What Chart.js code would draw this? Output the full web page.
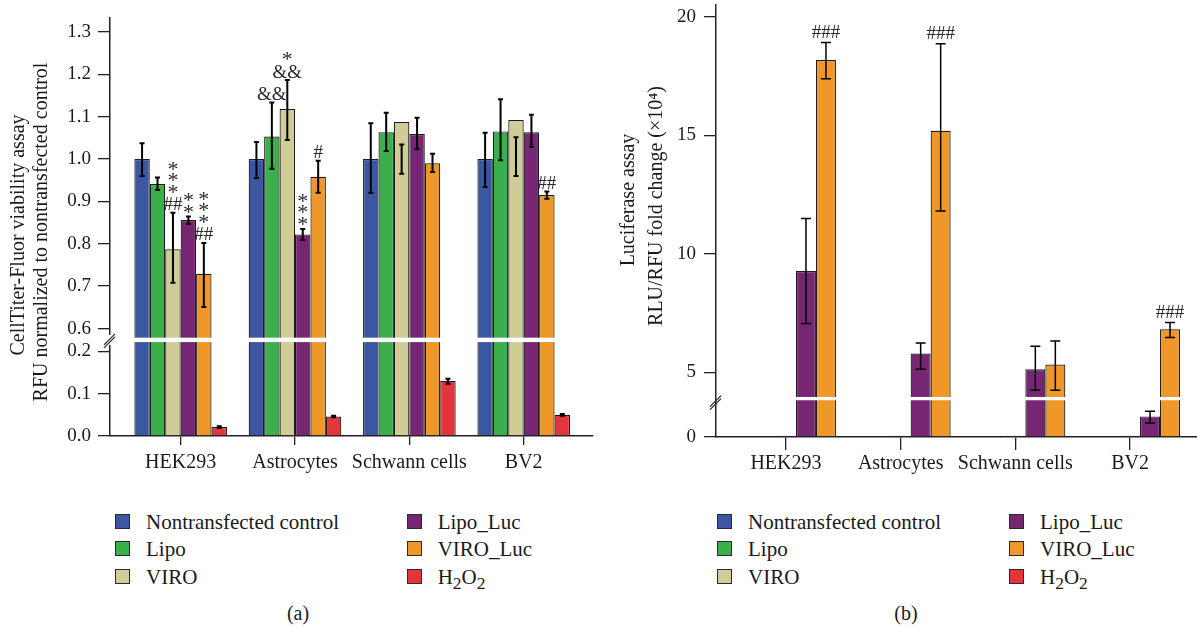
<!DOCTYPE html>
<html>
<head>
<meta charset="utf-8">
<script src="https://cdn.jsdelivr.net/npm/chart.js@4.4.1/dist/chart.umd.min.js"></script>
<style>
  body { margin: 0; background: #fff; }
  #page { position: relative; width: 1197px; height: 627px; overflow: hidden;
          font-family: 'Liberation Serif', 'Times New Roman', serif; color: #1a1a1a; }
  canvas { position: absolute; top: 0; }
  #chartA { left: 0; }
  #chartB { left: 600px; }
  .item { position: absolute; white-space: nowrap; font-size: 21px; line-height: 27px; height: 27px; }
  .swatch { position: absolute; left: 0; top: 5px; width: 13px; height: 13px; border: 1.5px solid #2b2b2b; }
  .txt { position: absolute; top: 0; }
  .caption { position: absolute; top: 601px; width: 60px; text-align: center; font-size: 20px; line-height: 24px; }
</style>
</head>
<body>
<div id="page">
  <canvas id="chartA" width="600" height="480"></canvas>
  <canvas id="chartB" width="597" height="480"></canvas>
  <div class="caption" style="left:268px">(a)</div>
  <div class="caption" style="left:876px">(b)</div>
</div>
<script>
const categories = ['HEK293', 'Astrocytes', 'Schwann cells', 'BV2'];
const seriesLabels = ['Nontransfected control', 'Lipo', 'VIRO', 'Lipo_Luc', 'VIRO_Luc', 'H<sub>2</sub>O<sub>2</sub>'];
const seriesColors = ['#3b57a1', '#3aaf4b', '#d0cc98', '#772673', '#ef9729', '#e3353b'];

// (a) CellTiter-Fluor viability, RFU normalized to nontransfected control
const viaCtrl    = [1.000, 1.000, 1.000, 1.000];
const viaLipo    = [0.941, 1.053, 1.063, 1.065];
const viaViro    = [0.787, 1.118, 1.087, 1.092];
const viaLipoLuc = [0.856, 0.822, 1.059, 1.063];
const viaViroLuc = [0.729, 0.958, 0.990, 0.915];
const viaH2O2    = [0.021, 0.046, 0.130, 0.050];
// error bars as [low, high]
const viaCtrlErr    = [[0.960, 1.037], [0.955, 1.040], [0.920, 1.084], [0.934, 1.062]];
const viaLipoErr    = [[0.927, 0.956], [0.977, 1.133], [1.019, 1.109], [0.997, 1.141]];
const viaViroErr    = [[0.708, 0.873], [1.045, 1.186], [0.965, 1.034], [0.960, 1.051]];
const viaLipoLucErr = [[0.847, 0.864], [0.809, 0.835], [1.023, 1.097], [1.028, 1.104]];
const viaViroLucErr = [[0.651, 0.802], [0.920, 0.996], [0.969, 1.012], [0.906, 0.923]];
const viaH2O2Err    = [[0.019, 0.023], [0.044, 0.048], [0.123, 0.135], [0.048, 0.052]];
const viaTicks = [0, 0.1, 0.2, 0.6, 0.7, 0.8, 0.9, 1.0, 1.1, 1.2, 1.3];
// [category, series, labels from bottom to top]
const viaMarks = [
  [0, 2, ['##', '*', '*', '*']],
  [0, 3, ['*', '*']],
  [0, 4, ['##', '*', '*', '*']],
  [1, 1, ['&&']],
  [1, 2, ['&&', '*']],
  [1, 3, ['*', '*', '*']],
  [1, 4, ['#']],
  [3, 4, ['##']]
];

// (b) Luciferase assay, RLU/RFU fold change (x10^4)
const lucCtrl    = [0.05, 0.05, 0.05, 0.05];
const lucLipoLuc = [9.27, 5.79, 5.13, 0.87];
const lucViroLuc = [18.18, 15.19, 5.33, 6.82];
const lucLipoLucErr = [[7.06, 11.49], [5.13, 6.24], [4.24, 6.10], [0.59, 1.085]];
const lucViroLucErr = [[17.39, 18.92], [11.81, 18.87], [4.24, 6.32], [6.47, 7.10]];
const lucTicks = [0, 5, 10, 15, 20];
const lucMarks = [
  [0, 4, ['###']],
  [1, 4, ['###']],
  [3, 4, ['###']]
];

const FONT = "'Liberation Serif', 'Times New Roman', serif";

// collapse the gap of a broken value axis
function brokenAxis(lowTop, highBottom, gap) {
  const shift = highBottom - lowTop - gap;
  const tf = v => v <= lowTop ? v : (v >= highBottom ? v - shift : lowTop + gap / 2);
  tf.breakAt = lowTop + gap / 2;
  return tf;
}

const decor = {
  id: 'decor',
  afterDatasetsDraw(chart, args, o) {
    const ctx = chart.ctx, ys = chart.scales.y, area = chart.chartArea;
    ctx.save();
    ctx.strokeStyle = '#000';
    ctx.lineWidth = o.errWidth;
    o.errors.forEach((errs, ds) => {
      if (!errs) return;
      const meta = chart.getDatasetMeta(ds);
      errs.forEach((e, i) => {
        const bx = meta.data[i].x;
        const y0 = ys.getPixelForValue(o.tf(e[0])), y1 = ys.getPixelForValue(o.tf(e[1]));
        ctx.beginPath();
        ctx.moveTo(bx, y0); ctx.lineTo(bx, y1);
        ctx.moveTo(bx - o.cap, y0); ctx.lineTo(bx + o.cap, y0);
        ctx.moveTo(bx - o.cap, y1); ctx.lineTo(bx + o.cap, y1);
        ctx.stroke();
      });
    });

    // white band across bars where the axis is broken
    const by = ys.getPixelForValue(o.tf.breakAt);
    ctx.fillStyle = '#fff';
    ctx.fillRect(area.left + 1, by - o.band / 2, area.right - area.left, o.band);
    if (o.axisGap) ctx.fillRect(area.left - 2, by - o.axisGap / 2, 4, o.axisGap);
    ctx.strokeStyle = '#1f2a1a';
    ctx.lineWidth = 1.3;
    [0, 3].forEach(d => {
      ctx.beginPath();
      ctx.moveTo(area.left - 6, by + 5 + d + o.slashDy);
      ctx.lineTo(area.left + 5, by - 6 + d + o.slashDy);
      ctx.stroke();
    });

    // significance marks
    ctx.fillStyle = '#2a2a2a';
    ctx.textAlign = 'center';
    ctx.textBaseline = 'alphabetic';
    o.marks.forEach(([cat, ds, lines]) => {
      const bar = chart.getDatasetMeta(ds).data[cat];
      let c = ys.getPixelForValue(o.tf(o.errors[ds][cat][1])) - o.markGap;
      lines.forEach((s, k) => {
        if (k > 0) c -= (lines[k - 1] === '*' ? 11.5 : 16);
        const size = s === '*' ? o.markSize + 3 : o.markSize;
        ctx.font = size + 'px ' + FONT;
        ctx.fillText(s, bar.x, c + (s === '*' ? 0.5 : 0.34) * size);
      });
    });
    ctx.restore();
  },
  afterDraw(chart, args, o) {
    const ctx = chart.ctx;
    ctx.save();
    ctx.fillStyle = '#1a1a1a';
    ctx.font = '20px ' + FONT;
    ctx.textAlign = 'center';
    ctx.textBaseline = 'middle';
    o.title.forEach((t, k) => {
      ctx.save();
      ctx.translate(o.titleX[k], o.titleY[k]);
      ctx.rotate(-Math.PI / 2);
      ctx.fillText(t, 0, 0);
      ctx.restore();
    });
    ctx.restore();
  }
};

function panel(id, p) {
  const tf = p.tf;
  return new Chart(document.getElementById(id), {
    type: 'bar',
    data: {
      labels: categories.map((c, i) => i),
      datasets: p.series.map(s => ({
        label: s.label,
        data: s.values ? s.values.map(tf) : categories.map(() => null),
        backgroundColor: s.color || 'rgba(0,0,0,0)',
        borderColor: '#1c1c1c',
        borderWidth: s.values ? 1.2 : 0
      }))
    },
    options: {
      responsive: false,
      animation: false,
      events: [],
      layout: { padding: p.padding },
      categoryPercentage: p.catPct,
      barPercentage: 1,
      plugins: {
        legend: { display: false },
        tooltip: { enabled: false },
        decor: {
          tf, errors: p.series.map(s => s.err || null), marks: p.marks,
          errWidth: p.errWidth, cap: p.cap, band: p.band, axisGap: p.axisGap, slashDy: p.slashDy,
          markSize: 19, markGap: p.markGap,
          title: p.title, titleX: p.titleX, titleY: p.titleY
        }
      },
      scales: {
        x: {
          type: 'linear', min: p.xMin, max: p.xMax, offset: false,
          afterBuildTicks: s => { s.ticks = categories.map((c, i) => ({ value: i })); },
          afterFit: s => { s.height = p.xHeight; s.paddingLeft = 0; s.paddingRight = 0; },
          grid: { offset: false, drawOnChartArea: false, tickLength: p.xTick, color: '#222', lineWidth: 1.3 },
          border: { color: '#222', width: 1.5 },
          ticks: { autoSkip: false, maxRotation: 0, padding: p.xPad, color: '#1a1a1a',
                   font: { family: FONT, size: 20 }, callback: v => categories[v] }
        },
        y: {
          min: 0, max: p.yMax,
          afterBuildTicks: s => { s.ticks = p.ticks.map(v => ({ value: tf(v) })); },
          afterFit: s => { s.width = p.yWidth; s.paddingTop = 0; s.paddingBottom = 0; },
          grid: { drawOnChartArea: false, tickLength: 12, color: '#222', lineWidth: 1.3 },
          border: { color: '#222', width: 1.5 },
          ticks: { autoSkip: false, padding: p.yPad, color: '#1a1a1a',
                   font: { family: FONT, size: 19 }, callback: (v, i) => p.tickFmt(p.ticks[i]) }
        }
      }
    },
    plugins: [decor]
  });
}

panel('chartA', {
  tf: brokenAxis(0.2, 0.6, 0.0535),
  series: [
    { label: 'Nontransfected control', values: viaCtrl, err: viaCtrlErr, color: seriesColors[0] },
    { label: 'Lipo', values: viaLipo, err: viaLipoErr, color: seriesColors[1] },
    { label: 'VIRO', values: viaViro, err: viaViroErr, color: seriesColors[2] },
    { label: 'Lipo_Luc', values: viaLipoLuc, err: viaLipoLucErr, color: seriesColors[3] },
    { label: 'VIRO_Luc', values: viaViroLuc, err: viaViroLucErr, color: seriesColors[4] },
    { label: 'H2O2', values: viaH2O2, err: viaH2O2Err, color: seriesColors[5] }
  ],
  marks: viaMarks, ticks: viaTicks, tickFmt: v => v.toFixed(1),
  padding: { left: 0, right: 7, top: 18, bottom: 0 },
  xMin: -0.618, xMax: 3.606, yMax: 0.986, catPct: 0.81,
  yWidth: 110, xHeight: 44, xTick: 9, xPad: 6, yPad: 7,
  errWidth: 2, cap: 2.5, band: 4.4, axisGap: 10, slashDy: 0, markGap: 9,
  title: ['CellTiter-Fluor viability assay', 'RFU normalized to nontransfected control'],
  titleX: [19, 42], titleY: [235, 232]
});

panel('chartB', {
  tf: brokenAxis(1.62, 3.89, 0),
  series: [
    { label: '' }, { label: '' },
    { label: 'Nontransfected control', values: lucCtrl, color: seriesColors[0] },
    { label: 'Lipo_Luc', values: lucLipoLuc, err: lucLipoLucErr, color: seriesColors[3] },
    { label: 'VIRO_Luc', values: lucViroLuc, err: lucViroLucErr, color: seriesColors[4] }
  ],
  marks: lucMarks, ticks: lucTicks, tickFmt: v => String(v),
  padding: { left: 0, right: 0, top: 5, bottom: 0 },
  xMin: -0.610, xMax: 3.584, yMax: 18.23, catPct: 0.872,
  yWidth: 116, xHeight: 43, xTick: 13, xPad: 2, yPad: 8,
  errWidth: 1.5, cap: 5, band: 3.3, axisGap: 0, slashDy: 3, markGap: 11,
  title: ['Luciferase assay', 'RLU/RFU fold change (\u00d710\u2074)'],
  titleX: [29, 57], titleY: [200, 206]
});

// legends (two columns, same for both panels)
function legend(x0, y0, dx) {
  const page = document.getElementById('page');
  seriesLabels.forEach((lab, i) => {
    const el = document.createElement('div');
    el.className = 'item';
    el.style.left = (x0 + (i >= 3 ? dx : 0)) + 'px';
    el.style.top = (y0 + (i % 3) * 27.4) + 'px';
    el.innerHTML = '<span class="swatch" style="background:' + seriesColors[i] + '"></span>' +
                   '<span class="txt" style="left:31px">' + lab + '</span>';
    page.appendChild(el);
  });
}
legend(115, 508.7, 291.7);
legend(717, 508.7, 292);
</script>
</body>
</html>
